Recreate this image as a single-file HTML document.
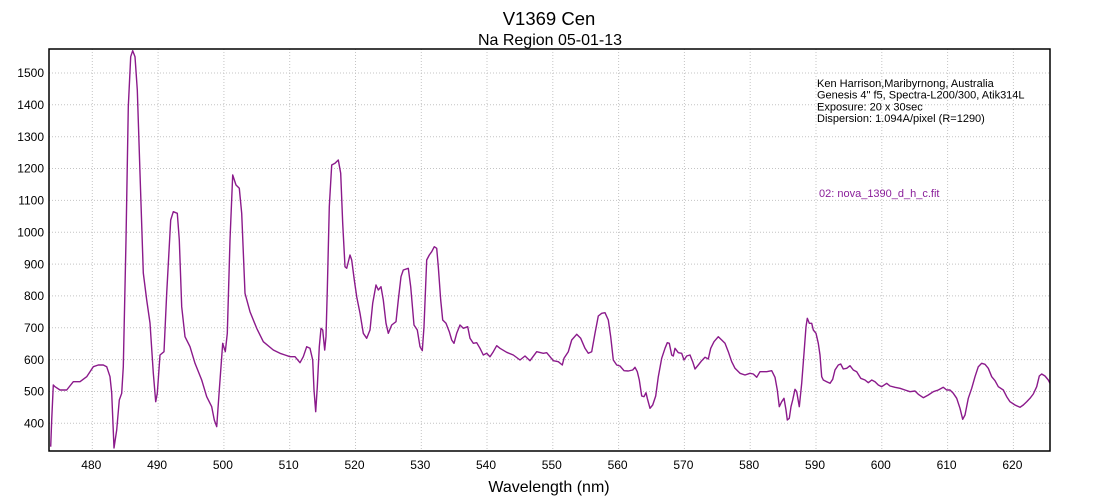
<!DOCTYPE html>
<html><head><meta charset="utf-8"><style>
html,body{margin:0;padding:0;background:#fff;}
svg{display:block;font-family:"Liberation Sans",Arial,sans-serif;}
</style></head><body>
<svg width="1100" height="500" viewBox="0 0 1100 500" xmlns="http://www.w3.org/2000/svg">
<rect width="1100" height="500" fill="#fff"/>
<text x="549" y="25" font-size="18.5" text-anchor="middle" fill="#000">V1369 Cen</text>
<text x="550" y="45" font-size="16" text-anchor="middle" fill="#000">Na Region 05-01-13</text>
<g stroke="#c4c4c4" stroke-width="1" stroke-dasharray="1 2">
<line x1="49" x2="1050" y1="423.3" y2="423.3"/>
<line x1="49" x2="1050" y1="391.5" y2="391.5"/>
<line x1="49" x2="1050" y1="359.6" y2="359.6"/>
<line x1="49" x2="1050" y1="327.8" y2="327.8"/>
<line x1="49" x2="1050" y1="295.9" y2="295.9"/>
<line x1="49" x2="1050" y1="264.1" y2="264.1"/>
<line x1="49" x2="1050" y1="232.2" y2="232.2"/>
<line x1="49" x2="1050" y1="200.4" y2="200.4"/>
<line x1="49" x2="1050" y1="168.5" y2="168.5"/>
<line x1="49" x2="1050" y1="136.7" y2="136.7"/>
<line x1="49" x2="1050" y1="104.8" y2="104.8"/>
<line x1="49" x2="1050" y1="73" y2="73"/>
<line y1="49" y2="451" x1="92.3" x2="92.3"/>
<line y1="49" y2="451" x1="158.1" x2="158.1"/>
<line y1="49" y2="451" x1="223.9" x2="223.9"/>
<line y1="49" y2="451" x1="289.7" x2="289.7"/>
<line y1="49" y2="451" x1="355.5" x2="355.5"/>
<line y1="49" y2="451" x1="421.3" x2="421.3"/>
<line y1="49" y2="451" x1="487" x2="487"/>
<line y1="49" y2="451" x1="552.8" x2="552.8"/>
<line y1="49" y2="451" x1="618.6" x2="618.6"/>
<line y1="49" y2="451" x1="684.4" x2="684.4"/>
<line y1="49" y2="451" x1="750.2" x2="750.2"/>
<line y1="49" y2="451" x1="816" x2="816"/>
<line y1="49" y2="451" x1="881.8" x2="881.8"/>
<line y1="49" y2="451" x1="947.6" x2="947.6"/>
<line y1="49" y2="451" x1="1013.4" x2="1013.4"/>
</g>
<g font-size="12" fill="#000" text-anchor="end">
<text x="44" y="427.5">400</text>
<text x="44" y="395.7">500</text>
<text x="44" y="363.8">600</text>
<text x="44" y="332">700</text>
<text x="44" y="300.1">800</text>
<text x="44" y="268.3">900</text>
<text x="44" y="236.4">1000</text>
<text x="44" y="204.6">1100</text>
<text x="44" y="172.7">1200</text>
<text x="44" y="140.9">1300</text>
<text x="44" y="109">1400</text>
<text x="44" y="77.2">1500</text>
</g>
<g font-size="12" fill="#000" text-anchor="middle">
<text x="91.3" y="469">480</text>
<text x="157.1" y="469">490</text>
<text x="222.9" y="469">500</text>
<text x="288.7" y="469">510</text>
<text x="354.5" y="469">520</text>
<text x="420.3" y="469">530</text>
<text x="486" y="469">540</text>
<text x="551.8" y="469">550</text>
<text x="617.6" y="469">560</text>
<text x="683.4" y="469">570</text>
<text x="749.2" y="469">580</text>
<text x="815" y="469">590</text>
<text x="880.8" y="469">600</text>
<text x="946.6" y="469">610</text>
<text x="1012.4" y="469">620</text>
</g>
<text x="549" y="492" font-size="16" text-anchor="middle" fill="#000">Wavelength (nm)</text>
<g font-size="11" fill="#000">
<text x="817" y="87">Ken Harrison,Maribyrnong, Australia</text>
<text x="817" y="98.7">Genesis 4" f5, Spectra-L200/300, Atik314L</text>
<text x="817" y="110.4">Exposure: 20 x 30sec</text>
<text x="817" y="122.1">Dispersion: 1.094A/pixel (R=1290)</text>
</g>
<text x="819" y="197" font-size="11" fill="#8a1f9a">02: nova_1390_d_h_c.fit</text>
<polyline fill="none" stroke="#8b1a8b" stroke-width="1.4" stroke-linejoin="round" points="50.7,446.7 51.7,420 53.3,385 55,386.7 60,390 66.7,390 73.3,381.7 80,381.7 86.7,376.7 93.3,366.7 98.3,365 103.3,365 106.7,366.7 110,376.7 111.7,393 114,448 116.7,430 119.3,400 121.7,393.3 123.3,366.7 126,240 128.3,106.7 130.7,56.7 132.7,50.7 135,56.7 137.3,90 140,173.3 143.3,273 146.7,300 150,323 153.3,373 155.7,401.7 157.3,393.3 160,355 164,351.7 166.7,293.3 170.7,220 173.3,211.7 177.3,213.3 179.3,240 181.7,306.7 185,336.7 190,346.7 195,363.3 201.7,380 206.7,396.7 211.7,406.7 214.3,420 216.7,426.7 219.3,390 222.7,343.3 225.3,351.7 227.3,333.3 230,240 232.7,175 236,185 239.3,188.3 241.7,213.3 245,293.3 250,311.7 256.7,328.3 263.3,341.7 273.3,350 280,353.3 285,355 290,356.7 295,356.7 300,362.7 303.3,356.7 306.7,346.7 310,348.3 312.7,360 314,390 315.7,411.7 317.3,386.7 319.3,346.7 321,328.3 322.7,330 324.7,350 326,336.7 327.3,290 329.3,206.7 331.7,165 335,163.3 338.3,160 340.7,173.3 342.7,223.3 345,266.7 346.7,268.3 350,255 351.7,260 354.3,280 356.7,296.7 360,313.3 363.3,333.3 366.7,338.3 370,330 372.7,303.3 376,285 378.3,290 381,286.7 383.3,300 386,323.3 388.3,333.3 391.7,325 396,321.7 398.3,300 401,276.7 403.3,270 408.3,268.3 410.7,286.7 414,325 417.3,330 420,346.7 422.3,350.7 424,326.7 426.7,260 429.3,255 431.7,251.7 434.3,246.7 436.7,248.3 438.3,266.7 440.7,300 442.7,320 446,323.3 449.3,331.7 451.7,340 454,343.3 456.7,333.3 460,325 463.3,328.3 467.7,326.7 470,338.3 473.3,343.3 476.7,342.7 480,348.3 483.3,355 486.7,353.3 490,356.7 493.3,351.7 496.7,345.7 500,348.3 506.7,352.3 513.3,355 520,360 525,356 530,360.7 536.7,351.7 543.3,353.3 546.7,352.7 550,356.7 553.3,360.7 558.3,361.7 562.3,365 564,358.3 568.3,351.7 571.7,340 576.7,334.3 580.7,338.3 585,348.3 588.3,353.3 591.7,351.7 595,333.3 598.3,316 601.7,313.3 605,312.7 608.3,320 610.7,336.7 613.3,360 616.7,365 620,366 624,370.7 628.3,371 632.7,370 635,367.3 637.3,371.7 639.3,380 641.7,396 644,396.7 646,392.7 647.3,398.3 650,408.3 652.7,405 655.7,396 658.3,376.7 661.7,358.3 665,348.3 667.3,342.7 669.3,343.3 671.7,355 673.3,356 675,348.3 678.3,352.7 681.7,353.3 684,360 686.7,356 690,355 692.7,361.7 695,369 698.3,365 701.7,360.7 705,357.3 708.3,359 710.7,348.3 714,341.7 718.3,336.7 721.7,340 725,343.3 728.3,351.7 731.7,361.7 735,368.3 740,373.3 745,375 750,373.3 753.3,374 756.7,377.3 760,371.7 766.7,371.7 771.7,370.7 775,377.3 777.3,390 779.3,406.7 781.7,401.7 784,398.3 786,410 787.3,420 789.3,418.3 791,406.7 792.7,400 795,389.3 796.7,391.7 799.3,406.7 801.7,383.3 804,353.3 806,326.7 807.3,318.3 809.3,323.3 811.7,323.3 813.3,330 816,333.3 818.3,343.3 820,355 821.7,376.7 823.3,380 826.7,381.7 830,383.3 832.7,379.3 835,370 838.3,365 840.7,364 843.3,369 846.7,368.3 850,365.7 853.3,370 856.7,371.7 860.7,378.3 865,380 868.3,382.7 871.7,380 875,381.7 878.3,385 881.7,386.7 886.7,383.3 890,386 895,387.3 900,388.3 905,390 910,391.7 915,391 918.3,394.3 923.3,397.7 928.3,395 933.3,391.7 938.3,390 943.3,387.3 946.7,390 950,390 953.3,393.3 956.7,398.3 960,408.3 962.7,419.3 965,415 968.3,398.3 971.7,388.3 975,376.7 978.3,366.7 981.7,363.3 985,364.3 988.3,368.3 991.7,376.7 995,380.7 998.3,386.7 1003.3,390 1006.7,396.7 1010,401.7 1015,405 1020,407.3 1023.3,405 1026.7,401.7 1030,398.3 1033.3,394 1036.7,386.7 1039.3,376 1041.7,374 1045,376 1048.3,380 1050,383.3"/>
<rect x="49" y="49" width="1001" height="402" fill="none" stroke="#000" stroke-width="1.5"/>
</svg>
</body></html>
